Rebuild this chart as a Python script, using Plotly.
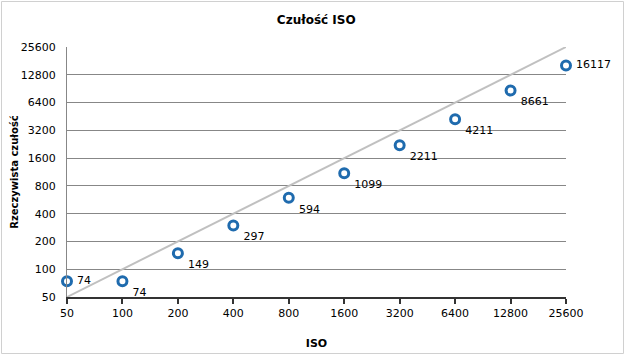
import plotly.graph_objects as go

iso = [50, 100, 200, 400, 800, 1600, 3200, 6400, 12800, 25600]
actual = [74, 74, 149, 297, 594, 1099, 2211, 4211, 8661, 16117]
tick_vals = [50, 100, 200, 400, 800, 1600, 3200, 6400, 12800, 25600]
tick_text = [str(v) for v in tick_vals]
label_pos = ["middle right"] + ["bottom right"] * 8 + ["middle right"]

font_fam = "DejaVu Sans"

fig = go.Figure()
fig.add_trace(go.Scatter(
    x=[iso[0], iso[-1]], y=[iso[0], iso[-1]], mode="lines",
    line=dict(color="#C0C0C0", width=2), hoverinfo="skip", showlegend=False,
    cliponaxis=False,
))
fig.add_trace(go.Scatter(
    x=iso, y=actual, mode="markers+text",
    text=[" " + str(v) for v in actual], textposition=label_pos,
    textfont=dict(family=font_fam, size=11, color="#000000"),
    marker=dict(symbol="circle-open", size=9, color="#1F6BAE", line=dict(width=3, color="#1F6BAE")),
    showlegend=False, cliponaxis=False,
))

fig.update_layout(
    width=625, height=355,
    margin=dict(l=67, r=59, t=47, b=58, autoexpand=False),
    paper_bgcolor="white", plot_bgcolor="white",
    title=dict(text="<b>Czułość ISO</b>", x=0.506, xanchor="center", y=0.945, yanchor="middle",
               font=dict(family=font_fam, size=12, color="#000000")),
    xaxis=dict(type="log", range=[1.69897, 4.40824], tickvals=tick_vals, ticktext=tick_text,
               showgrid=False, showline=True, linecolor="#333333", linewidth=2,
               ticks="outside", ticklen=5, tickwidth=2, tickcolor="#333333",
               tickfont=dict(family=font_fam, size=11, color="#000000"),
               title=dict(text="<b>ISO</b>", font=dict(family=font_fam, size=11, color="#000000"), standoff=20),
               zeroline=False, automargin=False),
    yaxis=dict(type="log", range=[1.69897, 4.40824], tickvals=tick_vals, ticktext=tick_text,
               showgrid=True, gridcolor="#878787", gridwidth=1,
               showline=True, linecolor="#878787", linewidth=1,
               ticks="", ticklabelstandoff=8, tickfont=dict(family=font_fam, size=11, color="#000000"),
               title=dict(text="<b>Rzeczywista czułość</b>", font=dict(family=font_fam, size=10, color="#000000"), standoff=0),
               zeroline=False, automargin=False),
)
fig.add_shape(type="rect", xref="paper", yref="paper",
              x0=-65.5 / 499, x1=1 + 57.5 / 499, y0=-56.5 / 250, y1=1 + 45.5 / 250,
              line=dict(color="#D0D0D0", width=1))
fig.write_html("out.html", config={"displayModeBar": False},
               post_script="document.body.style.margin='0';document.body.style.overflow='hidden';")
